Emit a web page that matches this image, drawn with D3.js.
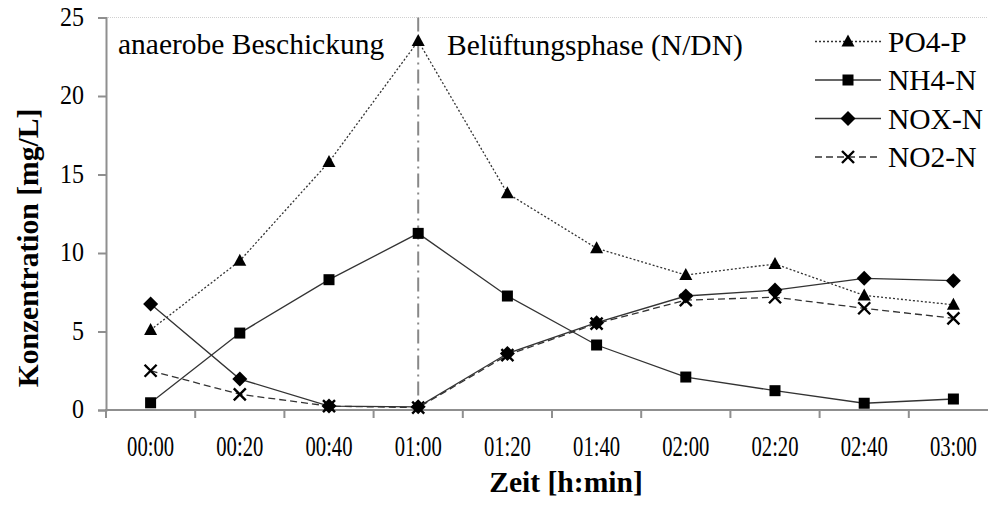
<!DOCTYPE html>
<html>
<head>
<meta charset="utf-8">
<script src="https://cdn.jsdelivr.net/npm/d3@7"></script>
<style>
  html, body { margin: 0; padding: 0; background: #fff; }
  svg { display: block; font-family: "Liberation Serif", "Times New Roman", serif; }
</style>
</head>
<body>
<svg id="chart" width="988" height="506"></svg>
<script>
// Sampling times and measured concentrations (mg/L)
const zeiten = ["00:00", "00:20", "00:40", "01:00", "01:20", "01:40", "02:00", "02:20", "02:40", "03:00"];
const po4P = [5.1, 9.5, 15.8, 23.5, 13.8, 10.3, 8.6, 9.3, 7.3, 6.7];
const nh4N = [0.46, 4.9, 8.3, 11.25, 7.26, 4.14, 2.1, 1.23, 0.43, 0.7];
const noxN = [6.75, 1.97, 0.25, 0.2, 3.6, 5.56, 7.26, 7.64, 8.39, 8.24];
const no2N = [2.5, 1.0, 0.25, 0.15, 3.5, 5.5, 7.0, 7.18, 6.48, 5.84];
const yTicks = [0, 5, 10, 15, 20, 25];
const seriesNames = ["PO4-P", "NH4-N", "NOX-N", "NO2-N"];
const phaseLabels = ["anaerobe Beschickung", "Belüftungsphase (N/DN)"];
const phaseSwitch = "01:00";

const svg = d3.select("#chart");
const plotLeft = 106, plotBottom = 410, plotTop = 17.5;
const step = 89.2;

const x = d3.scaleBand().domain(zeiten).range([plotLeft, plotLeft + step * zeiten.length]).padding(0);
const xc = d => x(d) + x.bandwidth() / 2;
const y = d3.scaleLinear().domain([0, 25]).range([plotBottom, plotTop]);

const axisColor = "#8f8f8f";

// top gridline
svg.append("line")
  .attr("x1", plotLeft).attr("x2", 988)
  .attr("y1", y(25)).attr("y2", y(25))
  .attr("stroke", "#d0d0d0").attr("stroke-width", 1.2)
  .attr("stroke-dasharray", "1,1");

// y axis
const yAxis = svg.append("g")
  .attr("transform", `translate(${plotLeft},0)`)
  .call(d3.axisLeft(y).tickValues(yTicks).tickSize(8).tickFormat(() => ""));
yAxis.select(".domain").attr("stroke", axisColor).attr("stroke-width", 2);
yAxis.selectAll(".tick line").attr("stroke", axisColor).attr("stroke-width", 2);
svg.append("g").selectAll("text").data(yTicks).join("text")
  .attr("transform", d => `translate(${plotLeft - 22},${y(d) + 8}) scale(1,1.15)`)
  .attr("text-anchor", "end")
  .style("font-size", "24px")
  .text(d => d);

// x axis: line, ticks at category boundaries, labels centered
svg.append("line")
  .attr("x1", plotLeft - 1).attr("x2", 988)
  .attr("y1", plotBottom).attr("y2", plotBottom)
  .attr("stroke", axisColor).attr("stroke-width", 2);
svg.append("g").selectAll("line").data(zeiten).join("line")
  .attr("x1", d => x(d)).attr("x2", d => x(d))
  .attr("y1", plotBottom).attr("y2", plotBottom + 8)
  .attr("stroke", axisColor).attr("stroke-width", 2);
svg.append("g").selectAll("text").data(zeiten).join("text")
  .attr("transform", d => `translate(${xc(d)},456) scale(0.86,1.2)`)
  .attr("text-anchor", "middle")
  .style("font-size", "24px")
  .text(d => d);

// axis titles
svg.append("text")
  .attr("x", 566).attr("y", 492)
  .attr("text-anchor", "middle")
  .style("font-size", "29.6px").style("font-weight", "bold")
  .text("Zeit [h:min]");
svg.append("text")
  .attr("transform", "translate(38,248) rotate(-90)")
  .attr("text-anchor", "middle")
  .style("font-size", "29.6px").style("font-weight", "bold")
  .text("Konzentration [mg/L]");

// phase boundary
svg.append("line")
  .attr("x1", xc(phaseSwitch)).attr("x2", xc(phaseSwitch))
  .attr("y1", plotTop).attr("y2", plotBottom)
  .attr("stroke", "#888").attr("stroke-width", 2)
  .attr("stroke-dasharray", "14,5,2,5");

// phase labels
svg.append("text").attr("x", 118).attr("y", 54)
  .style("font-size", "29.5px").text(phaseLabels[0]);
svg.append("text").attr("x", 447).attr("y", 55)
  .style("font-size", "29.5px").text(phaseLabels[1]);

// markers
function marker(g, type, cx, cy) {
  if (type === "triangle") {
    g.append("path").attr("d", `M${cx},${cy - 7}L${cx + 6.5},${cy + 5}L${cx - 6.5},${cy + 5}Z`).attr("fill", "#000");
  } else if (type === "square") {
    g.append("rect").attr("x", cx - 5.5).attr("y", cy - 5.5).attr("width", 11).attr("height", 11).attr("fill", "#000");
  } else if (type === "diamond") {
    g.append("path").attr("d", `M${cx},${cy - 7.5}L${cx + 7.5},${cy}L${cx},${cy + 7.5}L${cx - 7.5},${cy}Z`).attr("fill", "#000");
  } else if (type === "cross") {
    g.append("path").attr("d", `M${cx - 6},${cy - 6}L${cx + 6},${cy + 6}M${cx + 6},${cy - 6}L${cx - 6},${cy + 6}`)
      .attr("stroke", "#000").attr("stroke-width", 2.4).attr("fill", "none");
  }
}

const series = [
  { name: seriesNames[0], values: po4P, marker: "triangle", dash: "2,2", color: "#333" },
  { name: seriesNames[1], values: nh4N, marker: "square", dash: null, color: "#333" },
  { name: seriesNames[2], values: noxN, marker: "diamond", dash: null, color: "#333" },
  { name: seriesNames[3], values: no2N, marker: "cross", dash: "7,4", color: "#333" }
];

const line = d3.line().x((d, i) => xc(zeiten[i])).y(d => y(d));

// draw series in reverse order so PO4-P ends on top
series.slice().reverse().forEach(s => {
  const g = svg.append("g");
  g.append("path").datum(s.values)
    .attr("d", line)
    .attr("fill", "none").attr("stroke", s.color).attr("stroke-width", 1.3)
    .attr("stroke-dasharray", s.dash);
  s.values.forEach((v, i) => marker(g, s.marker, xc(zeiten[i]), y(v)));
});

// legend
const legendY = [41.5, 80, 118.5, 157];
series.forEach((s, i) => {
  const g = svg.append("g");
  const ly = legendY[i];
  g.append("line").attr("x1", 815).attr("x2", 881).attr("y1", ly).attr("y2", ly)
    .attr("stroke", s.color).attr("stroke-width", 1.3).attr("stroke-dasharray", s.dash);
  marker(g, s.marker, 848, ly);
  g.append("text").attr("x", 888).attr("y", ly + 10)
    .style("font-size", "29.5px").text(s.name);
});
</script>
</body>
</html>
